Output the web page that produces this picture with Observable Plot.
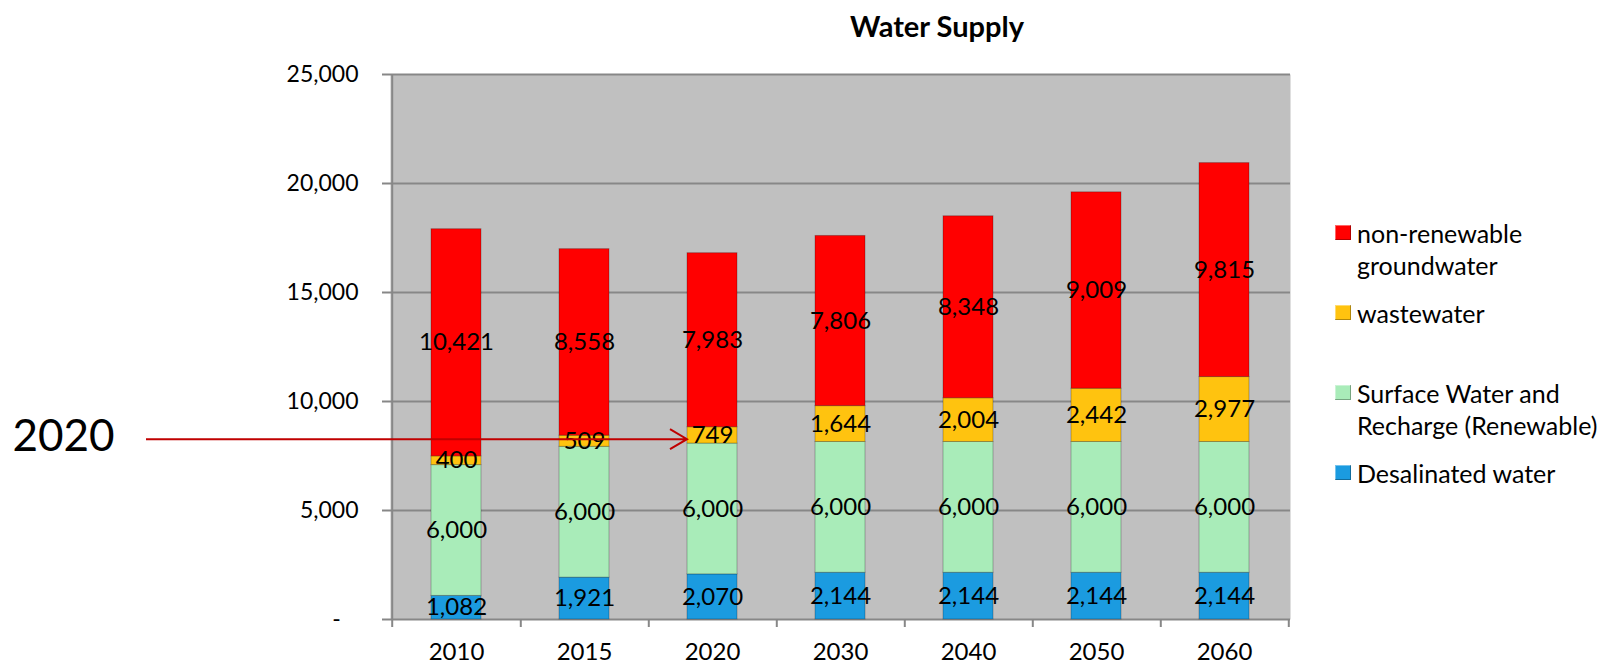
<!DOCTYPE html>
<html>
<head>
<meta charset="utf-8">
<script src="https://cdn.jsdelivr.net/npm/d3@7"></script>
<script src="https://cdn.jsdelivr.net/npm/@observablehq/plot@0.6"></script>
<style>
  html, body { margin: 0; padding: 0; background: #fff; }
  #wrap { position: relative; width: 1608px; height: 663px; font-family: Lato, "Open Sans", sans-serif; }
  #title { position: absolute; left: 937px; top: 25px; transform: translate(-50%, -50%); font-weight: 700; font-size: 29px; white-space: nowrap; }
  #legend { position: absolute; left: 1335px; top: 217px; font-size: 25px; }
  .item { height: 80px; display: flex; align-items: flex-start; }
  .sw { width: 16px; height: 15px; margin-top: 8px; margin-right: 6px; flex: none; box-shadow: inset -1px -1px 0 rgba(0,0,0,0.3), inset 1px 1px 0 rgba(255,255,255,0.4); }
  .lbl { line-height: 32px; }
</style>
</head>
<body>
<div id="wrap">
  <div id="title"></div>
  <div id="chart"></div>
  <div id="legend"></div>
</div>
<script>
// ---- data ----
const chartTitle = "Water Supply";
const years = ["2010", "2015", "2020", "2030", "2040", "2050", "2060"];
const desalinated = [1082, 1921, 2070, 2144, 2144, 2144, 2144];
const surfaceRecharge = [6000, 6000, 6000, 6000, 6000, 6000, 6000];
const wastewater = [400, 509, 749, 1644, 2004, 2442, 2977];
const nonRenewable = [10421, 8558, 7983, 7806, 8348, 9009, 9815];
const seriesNames = ["Desalinated water", "Surface Water and Recharge (Renewable)", "wastewater", "non-renewable groundwater"];
const seriesColors = ["#1b9be0", "#a9ecb9", "#ffc30f", "#ff0000"];
const legendOrder = ["non-renewable groundwater", "wastewater", "Surface Water and Recharge (Renewable)", "Desalinated water"];
const legendLines = [["non-renewable", "groundwater"], ["wastewater"], ["Surface Water and", "Recharge (Renewable)"], ["Desalinated water"]];
const yTicks = [0, 5000, 10000, 15000, 20000, 25000];
const annotationLabel = "2020";
const annotationValue = 8250;
const annotationYear = "2020";

// ---- table ----
const seriesValues = [desalinated, surfaceRecharge, wastewater, nonRenewable];
const table = [];
seriesNames.forEach((s, si) => years.forEach((y, yi) => table.push({year: y, series: s, value: seriesValues[si][yi]})));

const W = 1608, H = 663, ML = 390, MR = 318, MT = 74, MB = 44;
const step = (W - ML - MR) / years.length;
const fmt = d3.format(",");
const gridColor = "#878787";

const arrowMark = (index, scales, values, dims) => {
  const ns = "http://www.w3.org/2000/svg";
  const g = document.createElementNS(ns, "g");
  const x2 = scales.x(annotationYear);
  const y = scales.y(annotationValue);
  const x1 = dims.marginLeft - 244;
  const line = document.createElementNS(ns, "path");
  line.setAttribute("d", `M${x1},${y}H${x2}M${x2 - 17},${y - 10}L${x2},${y}L${x2 - 17},${y + 10}`);
  line.setAttribute("fill", "none");
  line.setAttribute("stroke", "#c00000");
  line.setAttribute("stroke-width", 2);
  g.appendChild(line);
  return g;
};

const chart = Plot.plot({
  width: W, height: H,
  marginLeft: ML, marginRight: MR, marginTop: MT, marginBottom: MB,
  style: {fontFamily: "Lato, 'Open Sans', sans-serif", fontSize: "23px", color: "#000", background: "transparent", overflow: "visible"},
  x: {domain: years, paddingInner: 0.61, paddingOuter: 0.305, axis: null},
  y: {domain: [0, 25000], axis: null},
  color: {domain: seriesNames, range: seriesColors},
  marks: [
    Plot.frame({fill: "#c0c0c0", stroke: null}),
    Plot.gridY(yTicks, {stroke: gridColor, strokeOpacity: 1, strokeWidth: 2}),
    Plot.axisY(yTicks, {tickSize: 8, tickPadding: 24, stroke: gridColor, strokeWidth: 2, fontSize: 23, label: null,
      tickFormat: d => d === 0 ? "-\u00a0\u00a0\u00a0" : fmt(d)}),
    Plot.ruleX([years[0]], {x: d => d, dx: -step / 2, stroke: gridColor, strokeWidth: 2, y1: 25000, y2: 0, insetBottom: -8}),
    Plot.ruleX(years, {x: d => d, dx: step / 2, stroke: gridColor, strokeWidth: 2, y1: 0, y2: 0, insetBottom: -8}),
    Plot.axisX(years, {tickSize: 0, tickPadding: 23, fontSize: 24, label: null}),
    Plot.barY(table, {x: "year", y: "value", fill: "series", stroke: "#000", strokeOpacity: 0.25, strokeWidth: 1}),
    Plot.text(table, Plot.stackY({x: "year", y: "value", z: "series", text: d => fmt(d.value), fontSize: 24, fill: "#000"})),
    arrowMark,
    Plot.text([annotationLabel], {y: () => annotationValue, frameAnchor: "left", textAnchor: "start", dx: -(ML - 12), dy: -3, fontSize: 44, fill: "#000"})
  ]
});
document.getElementById("chart").appendChild(chart);
document.getElementById("title").textContent = chartTitle;

const legend = document.getElementById("legend");
legendOrder.forEach((name, i) => {
  const item = document.createElement("div");
  item.className = "item";
  const sw = document.createElement("div");
  sw.className = "sw";
  sw.style.background = seriesColors[seriesNames.indexOf(name)];
  const lbl = document.createElement("div");
  lbl.className = "lbl";
  lbl.innerHTML = legendLines[i].join("<br>");
  item.appendChild(sw); item.appendChild(lbl);
  legend.appendChild(item);
});
</script>
</body>
</html>
